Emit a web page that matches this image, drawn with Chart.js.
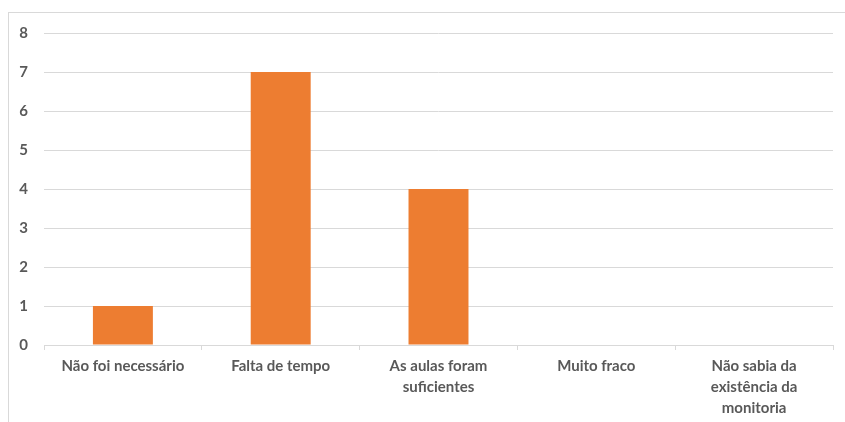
<!DOCTYPE html>
<html>
<head>
<meta charset="utf-8">
<script src="https://cdn.jsdelivr.net/npm/chart.js@4/dist/chart.umd.min.js"></script>
<style>
  html, body { margin: 0; padding: 0; background: #fff; }
  #wrap { position: relative; width: 845px; height: 422px; overflow: hidden; }
  #frame { position: absolute; left: 8px; top: 12px; width: 900px; height: 500px; border: 1px solid #d9d9d9; box-sizing: border-box; }
  #chart { position: absolute; left: 0; top: 0; }
</style>
</head>
<body>
<div id="wrap">
  <div id="frame"></div>
  <canvas id="chart" width="845" height="422"></canvas>
</div>
<script>
// categorias (com quebras de linha como no original)
const categorias = [
    'Não foi necessário',
    'Falta de tempo',
    ['As aulas foram', 'suficientes'],
    'Muito fraco',
    ['Não sabia da', 'existência da', 'monitoria']
];
const valores = [1, 7, 4, 0, 0];
const ticksY = [0, 1, 2, 3, 4, 5, 6, 7, 8];

const corTexto = '#595959';
const corGrade = '#d9d9d9';
const fonte = { family: 'Lato, "Liberation Sans", sans-serif', size: 15, weight: 'bold' };

const ctx = document.getElementById('chart').getContext('2d');
new Chart(ctx, {
    type: 'bar',
    data: {
        labels: categorias,
        datasets: [{
            data: valores,
            backgroundColor: '#ED7D31',
            borderWidth: 0,
            categoryPercentage: 1,
            barPercentage: 0.38
        }]
    },
    options: {
        responsive: false,
        animation: false,
        layout: { padding: { left: 0, right: 12, top: 33, bottom: 0 } },
        plugins: {
            legend: { display: false },
            tooltip: { enabled: false }
        },
        scales: {
            x: {
                offset: true,
                grid: {
                    offset: true,
                    drawOnChartArea: false,
                    drawTicks: true,
                    tickLength: 5,
                    color: corGrade
                },
                border: { display: true, color: corGrade },
                ticks: {
                    color: corTexto,
                    font: { ...fonte, lineHeight: 1.4 },
                    padding: 6,
                    maxRotation: 0,
                    autoSkip: false
                },
                afterFit: axis => { axis.height = 77; }
            },
            y: {
                min: 0,
                max: 8,
                afterBuildTicks: axis => { axis.ticks = ticksY.map(v => ({ value: v })); },
                grid: { color: corGrade, drawTicks: false },
                border: { display: false },
                ticks: {
                    color: corTexto,
                    font: fonte,
                    padding: 16
                },
                afterFit: axis => { axis.width = 44; }
            }
        }
    }
});
</script>
</body>
</html>
